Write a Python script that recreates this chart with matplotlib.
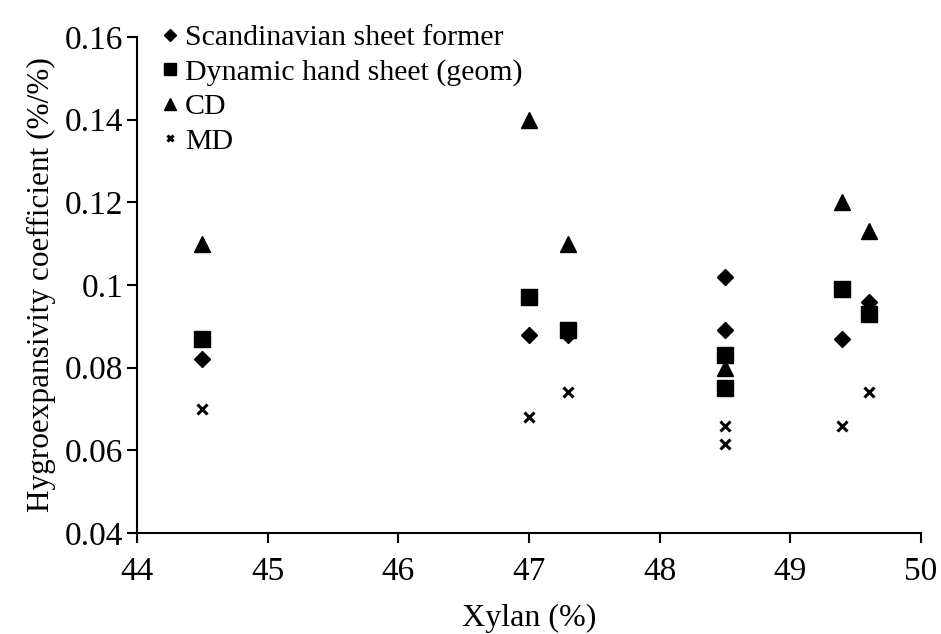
import matplotlib
matplotlib.use("Agg")
import matplotlib.pyplot as plt

plt.rcParams['font.family'] = ['Liberation Serif', 'DejaVu Serif']

# 数据：木聚糖含量 与 湿膨胀系数
x_scand = [44.5, 47.0, 47.3, 48.5, 48.5, 49.4, 49.6]
y_scand = [0.082, 0.088, 0.088, 0.102, 0.089, 0.087, 0.096]

x_dyn = [44.5, 47.0, 47.3, 48.5, 48.5, 49.4, 49.6]
y_dyn = [0.087, 0.097, 0.089, 0.083, 0.075, 0.099, 0.093]

x_cd = [44.5, 47.0, 47.3, 48.5, 49.4, 49.6]
y_cd = [0.110, 0.140, 0.110, 0.080, 0.120, 0.113]

x_md = [44.5, 47.0, 47.3, 48.5, 48.5, 49.4, 49.6]
y_md = [0.070, 0.068, 0.074, 0.066, 0.0615, 0.066, 0.074]

xticks = [44, 45, 46, 47, 48, 49, 50]
yticks = [0.04, 0.06, 0.08, 0.1, 0.12, 0.14, 0.16]
ytick_labels = ['0.04', '0.06', '0.08', '0.1', '0.12', '0.14', '0.16']

fig = plt.figure(figsize=(9.41, 6.34), dpi=100)
ax = fig.add_axes([0.1456, 0.1593, 0.833, 0.7823])

ax.plot(x_scand, y_scand, 'D', color='black', markersize=8, linestyle='none',
        label='Scandinavian sheet former')
ax.plot(x_dyn, y_dyn, 's', color='black', markersize=11, linestyle='none',
        label='Dynamic hand sheet (geom)')
ax.plot(x_cd, y_cd, '^', color='black', markersize=12, linestyle='none',
        label='CD')
ax.plot(x_md, y_md, 'x', color='black', markersize=6.5, markeredgewidth=2.2,
        linestyle='none', label='MD')

ax.set_xlim(44, 50)
ax.set_ylim(0.04, 0.16)
ax.set_xticks(xticks)
ax.set_yticks(yticks)
ax.set_yticklabels(ytick_labels)

for s in ['top', 'right']:
    ax.spines[s].set_visible(False)
for s in ['left', 'bottom']:
    ax.spines[s].set_linewidth(1.5)

ax.tick_params(direction='out', length=7, width=1.5, labelsize=24)
ax.tick_params(axis='x', pad=10)
ax.tick_params(axis='y', pad=3)
ax.set_xlabel('Xylan (%)', fontsize=23, labelpad=12)
ax.set_ylabel('Hygroexpansivity coefficient (%/%)', fontsize=22.5, labelpad=6)

leg = ax.legend(loc='upper left', bbox_to_anchor=(0.0, 1.068), frameon=False,
                fontsize=21.5, handletextpad=0.1, handlelength=0.8,
                labelspacing=0.25, borderaxespad=0.3, markerscale=0.75)

fig.savefig('out.png', dpi=100)
